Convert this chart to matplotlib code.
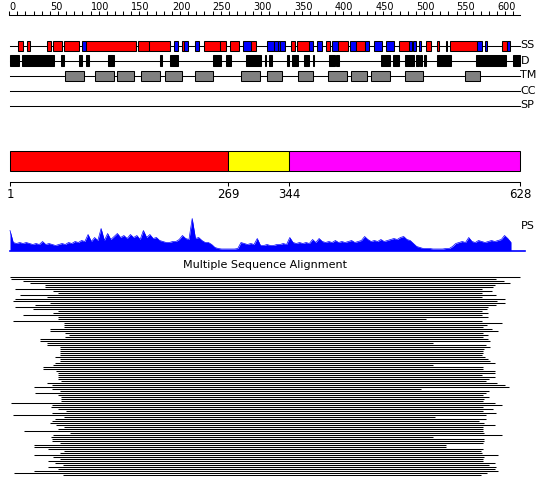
import numpy as np
import matplotlib
matplotlib.use('Agg')
import matplotlib.pyplot as plt
from matplotlib.patches import Rectangle

# ---------------- data ----------------
seq_len = 628
ruler_minor = list(range(0, 621, 10))
ruler_major = list(range(0, 601, 50))

ss_start = [11, 22, 46, 54, 67, 90, 95, 158, 172, 203, 212, 215, 229, 240, 259, 271, 288, 297,
            317, 326, 330, 333, 346, 354, 368, 378, 389, 397, 404, 419, 426, 437, 449, 463,
            479, 491, 497, 504, 513, 526, 537, 542, 575, 585, 606, 612]
ss_end = [17, 25, 52, 65, 86, 95, 156, 172, 198, 208, 215, 220, 233, 259, 267, 283, 297, 304,
          326, 330, 333, 339, 351, 368, 374, 384, 394, 404, 416, 426, 437, 442, 458, 473,
          491, 495, 500, 506, 519, 528, 538, 575, 581, 588, 612, 616]
ss_type = ['H', 'H', 'H', 'H', 'H', 'E', 'H', 'H', 'H', 'E', 'H', 'E', 'E', 'H', 'H', 'H', 'E', 'H',
           'E', 'E', 'E', 'E', 'H', 'H', 'E', 'E', 'H', 'E', 'H', 'E', 'H', 'E', 'E', 'E',
           'H', 'E', 'E', 'E', 'H', 'H', 'E', 'H', 'E', 'E', 'H', 'E']

dis_start = [1, 16, 64, 86, 95, 122, 185, 198, 251, 266, 291, 304, 315, 319, 342, 348, 363, 374,
             393, 402, 457, 472, 487, 500, 505, 510, 526, 574, 620]
dis_end = [12, 55, 68, 90, 98, 129, 188, 207, 261, 273, 303, 310, 316, 323, 344, 355, 369, 375,
           401, 405, 468, 479, 498, 504, 508, 513, 543, 611, 628]

tm_start = [69, 106, 133, 162, 192, 229, 285, 317, 355, 392, 420, 445, 487, 560]
tm_end = [92, 129, 153, 185, 213, 251, 308, 336, 373, 415, 440, 468, 509, 579]

dom_start = [1, 269, 344]
dom_end = [269, 344, 628]
dom_color = ['#ff0000', '#ffff00', '#ff00ff']
dom_ticks = [1, 269, 344, 628]

# PS profile (value every 4 residues starting at residue 1)
ps_values = [20, 8, 7, 8, 7, 8, 7, 6, 7, 6, 9, 6, 7, 6, 5, 6, 7, 6, 8, 7,
             9, 8, 10, 9, 16, 9, 13, 10, 22, 10, 17, 11, 14, 17, 13, 15, 12, 16, 13, 15,
             11, 20, 13, 16, 12, 13, 10, 9, 8, 8, 9, 9, 11, 15, 12, 11, 32, 12, 13, 10,
             8, 8, 6, 3, 2, 1.5, 1.5, 1.5, 1.5, 1.5, 2, 8, 7, 6, 7, 6, 12, 5, 5, 6,
             5, 5, 6, 6, 7, 6, 13, 8, 7, 8, 7, 8, 7, 11, 8, 12, 9, 8, 9, 8,
             10, 8, 9, 8, 9, 10, 8, 9, 10, 14, 11, 9, 10, 9, 11, 9, 10, 11, 12, 11,
             13, 14, 11, 10, 7, 4, 3, 2, 2, 2, 1.5, 1.5, 1.5, 1.5, 2, 2, 4, 7, 8, 9,
             8, 13, 9, 8, 10, 9, 8, 9, 10, 9, 10, 11, 15, 12, 8]
ps_end = 634

msa_start = [1, 2, 17, 26, 44, 44, 7, 54, 60, 13, 46, 7, 5, 50, 32, 7, 29, 60, 54, 17,
             60, 60, 5, 67, 68, 67, 50, 50, 69, 73, 69, 38, 38, 46, 46, 62, 62, 62, 62, 62,
             56, 62, 62, 56, 54, 42, 42, 58, 60, 60,
             60, 60, 64, 46, 53, 31, 53, 62, 32, 60, 64, 64, 64, 2, 53, 52, 60, 70, 53, 5,
             68, 56, 53, 50, 57, 68, 60, 18, 75, 54, 51, 53, 53, 63, 30, 30, 48, 68, 63, 31,
             54, 63, 48, 56, 66, 48, 60, 31, 6, 66]
msa_end = [628, 598, 608, 616, 597, 595, 581, 594, 581, 599, 581, 610, 600, 610, 598, 589, 587, 581, 589, 581,
           589, 513, 581, 606, 587, 583, 593, 601, 583, 589, 583, 589, 591, 521, 586, 591, 584, 583, 583, 581,
           585, 589, 591, 597, 521, 583, 583, 597, 597, 581,
           597, 590, 586, 600, 610, 614, 506, 590, 586, 582, 590, 584, 582, 597, 606, 582, 595, 582, 598, 586,
           524, 586, 578, 584, 597, 582, 582, 582, 584, 606, 521, 584, 584, 582, 537, 537, 582, 580, 581, 601,
           584, 582, 582, 597, 590, 598, 597, 601, 588, 580]

track_names = ['SS', 'D', 'TM', 'CC', 'SP']
msa_title = 'Multiple Sequence Alignment'

# ---------------- layout (pixel rows of figure) ----------------
W, H = 550, 495
fig = plt.figure(figsize=(W / 100, H / 100), dpi=100)
ax = fig.add_axes([0, 0, 1, 1])
xmin, xmax = -11.294, 664.9
ax.set_xlim(xmin, xmax)
ax.set_ylim(H, 0)
ax.axis('off')
px = (xmax - xmin) / W  # residues per pixel

lw = 0.75
# ruler
y_r = 14.5
ax.plot([0, seq_len], [y_r, y_r], color='black', lw=lw)
ax.vlines(ruler_minor, y_r - 4, y_r, color='black', lw=lw)
for v in ruler_major:
    ax.text(v, 10.5, str(v), ha='left', va='baseline', fontsize=7, color='black')

# tracks
track_y = [45.5, 60.5, 75.5, 90.5, 105.5]
for name, y in zip(track_names, track_y):
    ax.plot([1, seq_len], [y, y], color='black', lw=lw, zorder=1)
    ax.text(seq_len + 0.5 * px, y, name, ha='left', va='center', fontsize=8, color='black')

for s, e, t in zip(ss_start, ss_end, ss_type):
    c = '#ff0000' if t == 'H' else '#0000ff'
    ax.add_patch(Rectangle((s, 40.5), e - s, 10.5, facecolor=c, edgecolor='black', lw=lw, zorder=2))
for s, e in zip(dis_start, dis_end):
    ax.add_patch(Rectangle((s, 55), e - s, 11, facecolor='black', edgecolor='black', lw=lw, zorder=2))
for s, e in zip(tm_start, tm_end):
    ax.add_patch(Rectangle((s, 70.5), e - s, 10, facecolor='#808080', edgecolor='black', lw=lw, zorder=2))

# domains
for s, e, c in zip(dom_start, dom_end, dom_color):
    ax.add_patch(Rectangle((s, 150.5), e - s, 20.5, facecolor=c, edgecolor='black', lw=lw, zorder=2))
y_d = 181.5
ax.plot([1, seq_len], [y_d, y_d], color='black', lw=lw)
ax.vlines(dom_ticks, y_d, y_d + 4, color='black', lw=lw)
for v in dom_ticks:
    ax.text(v, 195, str(v), ha='center', va='center', fontsize=8.5, color='black')

# PS profile
ax_ps = fig.add_axes([0, (H - 250.5) / H, 1, 34 / H])
ax_ps.set_xlim(xmin, xmax)
ax_ps.set_ylim(0, 34)
ax_ps.axis('off')
ps_x = 1 + 4 * np.arange(len(ps_values))
ax_ps.fill_between(ps_x, 0, ps_values, color='#0000ff', lw=0)
ax_ps.plot(ps_x, ps_values, color='#0000ff', lw=0.5)
ax_ps.plot([1, ps_end], [0, 0], color='#0000ff', lw=1.2, clip_on=False)
ax.text(seq_len + 0.5 * px, 226, 'PS', ha='left', va='center', fontsize=8, color='black')

# MSA
ax.text((1 + seq_len) / 2, 265.5, msa_title, ha='center', va='center', fontsize=8, color='black')
msa_y = 276.5 + 2 * np.arange(len(msa_start))
ax.hlines(msa_y, msa_start, msa_end, color='black', lw=0.75)

fig.savefig('out.png', dpi=100)
